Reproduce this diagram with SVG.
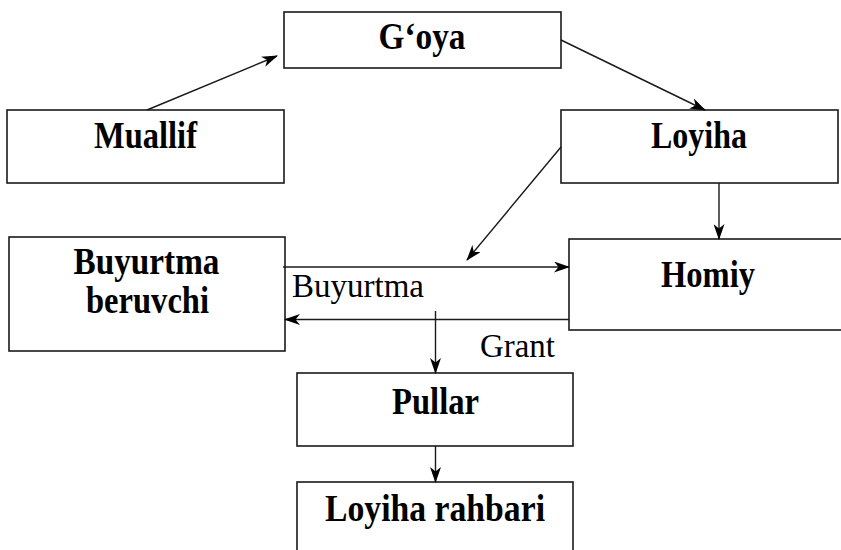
<svg xmlns="http://www.w3.org/2000/svg" width="841" height="550" viewBox="0 0 841 550">
  <style>
    .box { fill: #ffffff; stroke: #1a1a1a; stroke-width: 1.6; }
    .title { font-family: "Liberation Serif", "Times New Roman", serif; font-weight: bold; font-size: 37px; fill: #000; text-anchor: middle; }
    .label { font-family: "Liberation Serif", "Times New Roman", serif; font-size: 34px; fill: #000; }
    .wire { fill: none; stroke: #1a1a1a; stroke-width: 1.4; marker-end: url(#head); }
  </style>
  <defs>
    <marker id="head" viewBox="0 0 16 11" refX="15" refY="5.5" markerWidth="16" markerHeight="11" markerUnits="userSpaceOnUse" orient="auto">
      <path d="M0,0 L16,5.5 L0,11 L4.5,5.5 z" fill="#000"/>
    </marker>
  </defs>
  <rect width="841" height="550" fill="#ffffff"/>

  <g id="goya">
    <rect class="box" x="284" y="12" width="277" height="56"/>
    <text class="title" x="422" y="49" textLength="87" lengthAdjust="spacingAndGlyphs">G‘oya</text>
  </g>
  <g id="muallif">
    <rect class="box" x="7" y="110" width="277" height="73"/>
    <text class="title" x="145.5" y="148" textLength="103" lengthAdjust="spacingAndGlyphs">Muallif</text>
  </g>
  <g id="loyiha">
    <rect class="box" x="561" y="110" width="277" height="73"/>
    <text class="title" x="699" y="148" textLength="96" lengthAdjust="spacingAndGlyphs">Loyiha</text>
  </g>
  <g id="buyurtma-beruvchi">
    <rect class="box" x="9" y="237" width="276" height="114"/>
    <text class="title" x="146.5" y="274" textLength="146" lengthAdjust="spacingAndGlyphs">Buyurtma</text>
    <text class="title" x="147.5" y="313" textLength="123" lengthAdjust="spacingAndGlyphs">beruvchi</text>
  </g>
  <g id="homiy">
    <rect class="box" x="569" y="239" width="278" height="91"/>
    <text class="title" x="708" y="287" textLength="94" lengthAdjust="spacingAndGlyphs">Homiy</text>
  </g>
  <g id="pullar">
    <rect class="box" x="297" y="373" width="276" height="73"/>
    <text class="title" x="435.5" y="414" textLength="87" lengthAdjust="spacingAndGlyphs">Pullar</text>
  </g>
  <g id="loyiha-rahbari">
    <rect class="box" x="297" y="482" width="276" height="80"/>
    <text class="title" x="435" y="521" textLength="220" lengthAdjust="spacingAndGlyphs">Loyiha rahbari</text>
  </g>

  <g id="connectors">
    <line class="wire" x1="147" y1="110" x2="277" y2="56"/>
    <line class="wire" x1="561" y1="40" x2="705" y2="110"/>
    <line class="wire" x1="561" y1="147" x2="467" y2="260"/>
    <line class="wire" x1="719" y1="183" x2="719" y2="239"/>
    <line class="wire" x1="283" y1="267" x2="569" y2="267"/>
    <line class="wire" x1="569" y1="319.5" x2="285" y2="319.5"/>
    <line class="wire" x1="435.5" y1="311" x2="435.5" y2="373"/>
    <line class="wire" x1="435.5" y1="446" x2="435.5" y2="482"/>
    <text class="label" x="292" y="297" textLength="132" lengthAdjust="spacingAndGlyphs">Buyurtma</text>
    <text class="label" x="480" y="357" textLength="75" lengthAdjust="spacingAndGlyphs">Grant</text>
  </g>
</svg>
